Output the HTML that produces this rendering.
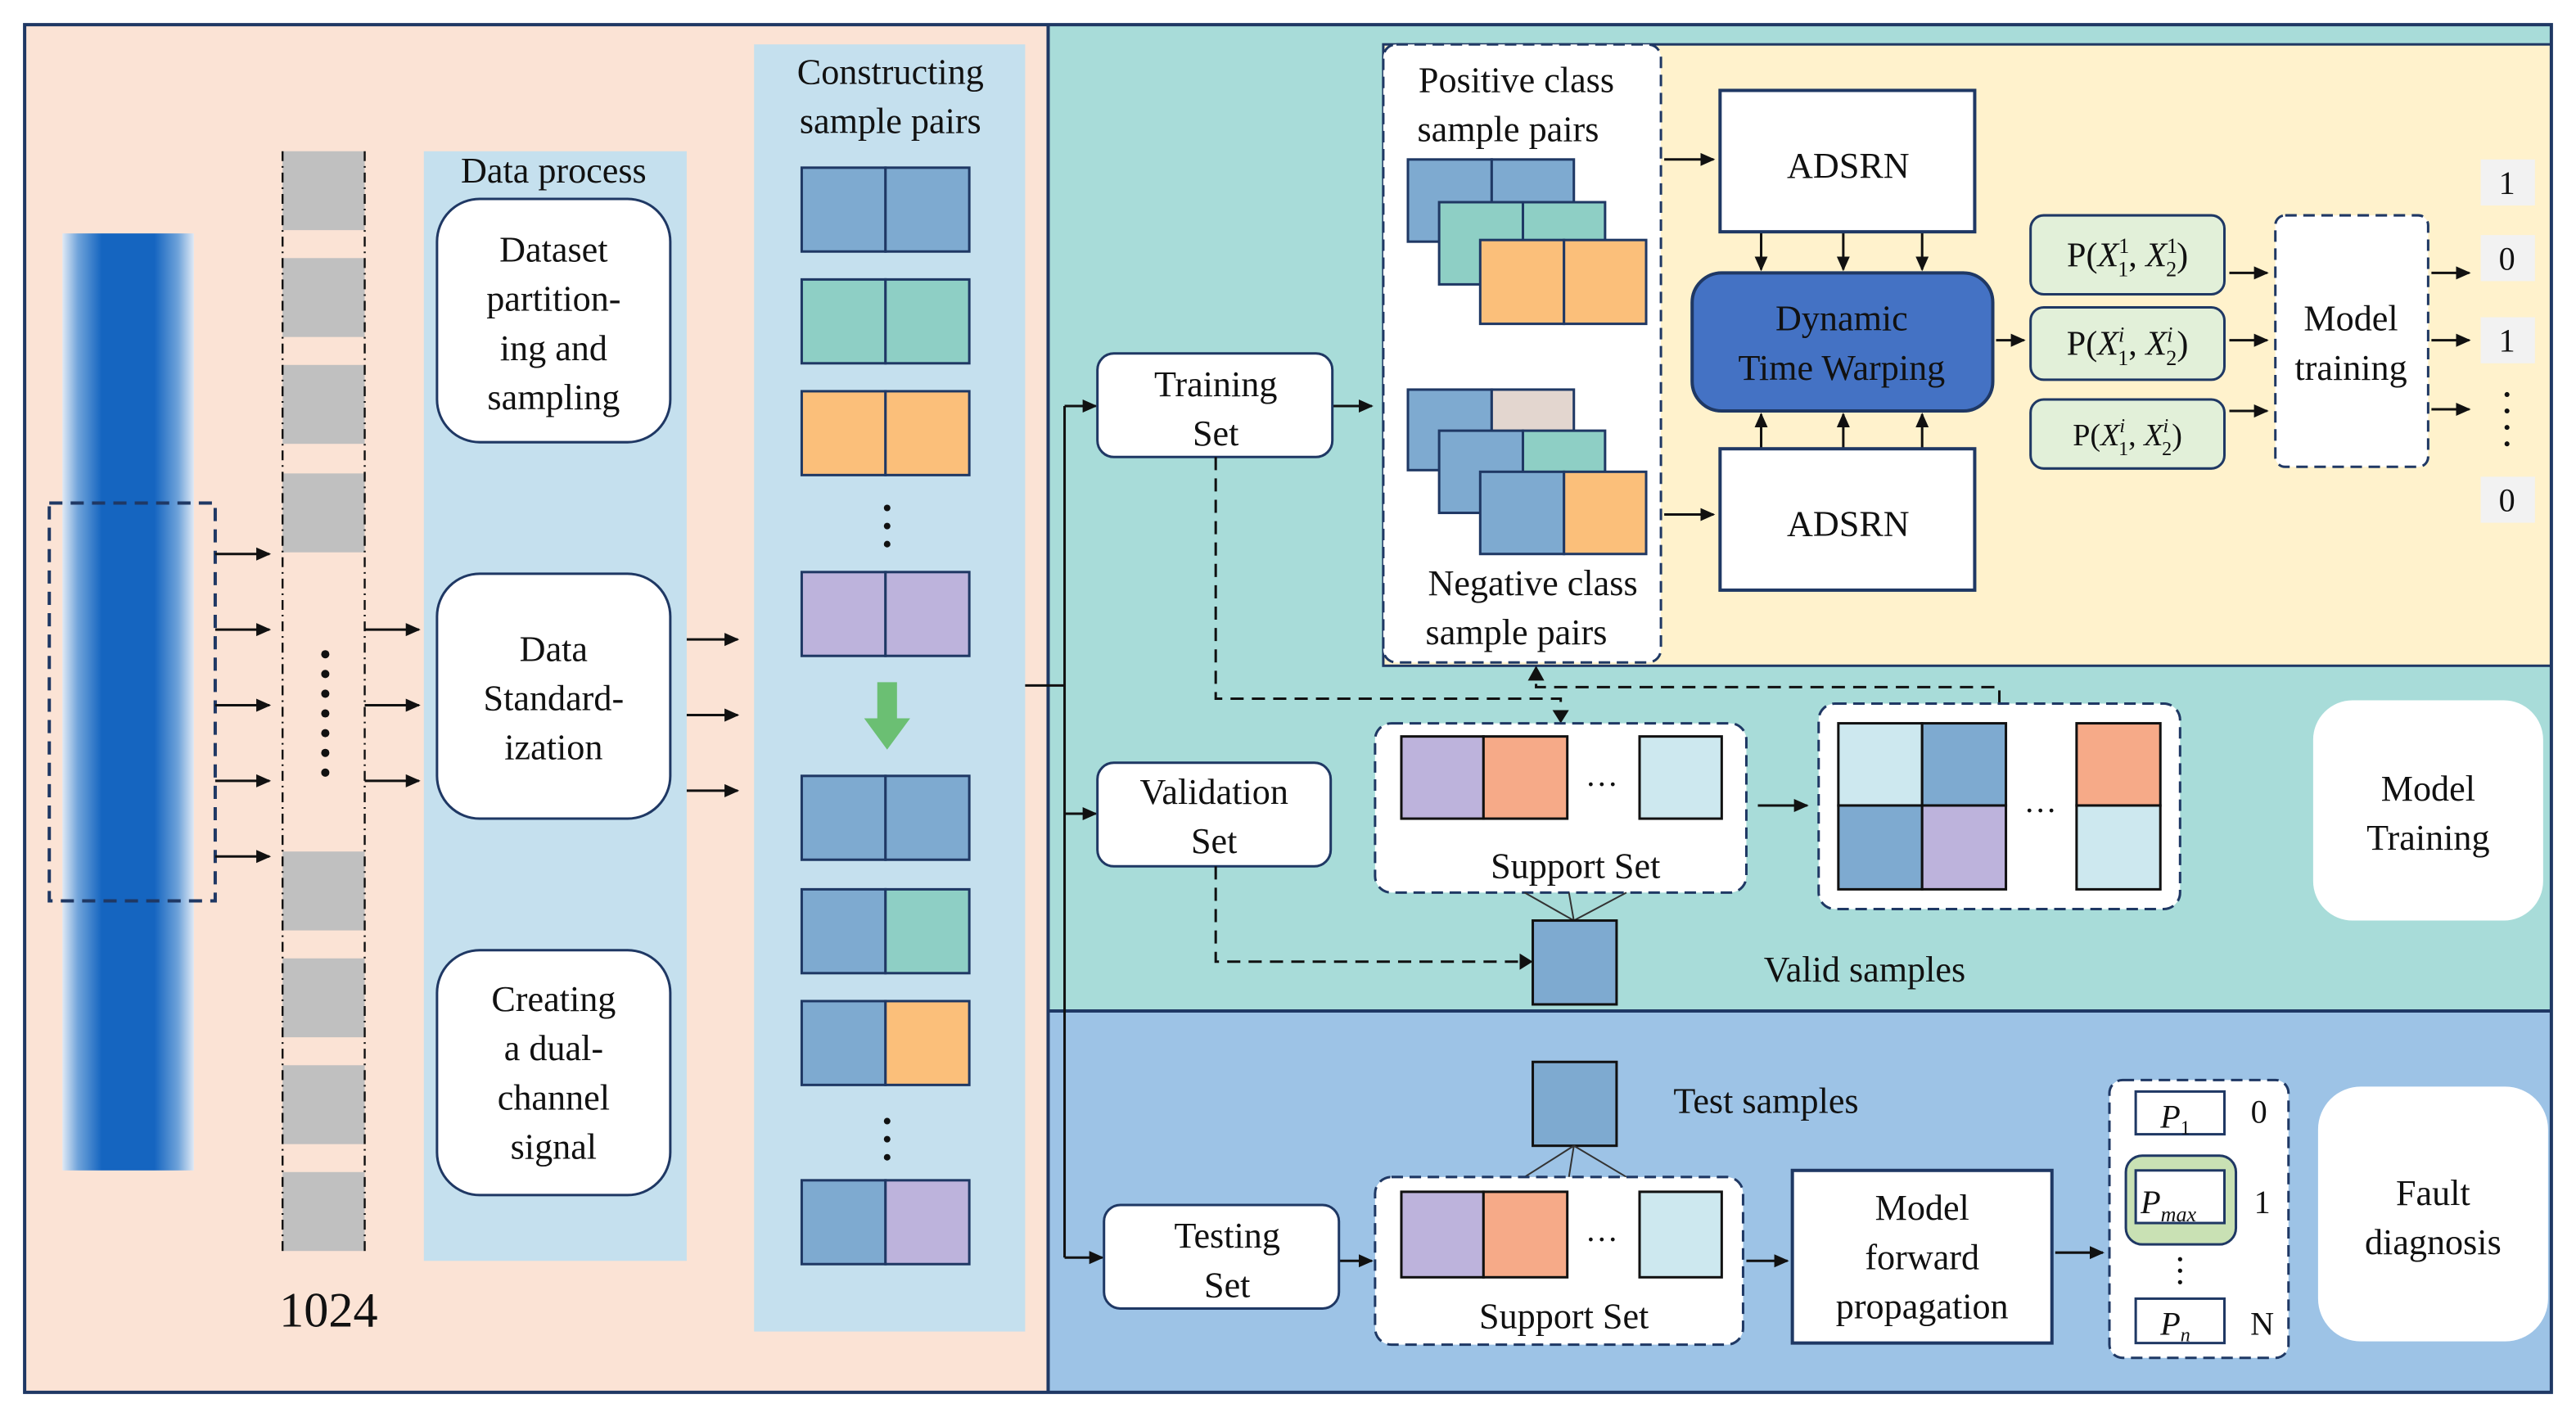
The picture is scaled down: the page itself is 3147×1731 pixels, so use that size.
<!DOCTYPE html>
<html><head><meta charset="utf-8"><style>
html,body{margin:0;padding:0;background:#fff;}
svg{display:block;}
text{font-family:"Liberation Serif",serif;fill:#111;}
</style></head><body>
<svg width="3147" height="1731" viewBox="0 0 1568 862" preserveAspectRatio="none" xmlns="http://www.w3.org/2000/svg">
<defs>
<marker id="a" markerWidth="10" markerHeight="10" refX="8" refY="5" orient="auto" markerUnits="userSpaceOnUse"><path d="M0,1 L9,5 L0,9 Z" fill="#111"/></marker>
<linearGradient id="sig" x1="0" x2="1" y1="0" y2="0">
<stop offset="0" stop-color="#dfe9f5"/><stop offset="0.12" stop-color="#6fa3da"/><stop offset="0.3" stop-color="#1565c0"/><stop offset="0.7" stop-color="#1565c0"/><stop offset="0.88" stop-color="#6fa3da"/><stop offset="1" stop-color="#dfe9f5"/>
</linearGradient>
</defs>
<rect x="0" y="0" width="1568" height="862" fill="#fff"/>
<!-- panels -->
<rect x="15" y="15" width="623" height="832" fill="#fbe3d5"/>
<rect x="638" y="15" width="915" height="600" fill="#a8dcd9"/>
<rect x="842" y="27" width="711" height="378" fill="#fff2cc" stroke="#1f3864" stroke-width="1.5"/>
<rect x="638" y="615" width="915" height="232" fill="#9dc3e6"/>
<line x1="638" y1="615" x2="1553" y2="615" stroke="#1f3864" stroke-width="2"/>
<line x1="638" y1="15" x2="638" y2="847" stroke="#1f3864" stroke-width="2"/>
<rect x="15" y="15" width="1538" height="832" fill="none" stroke="#1f3864" stroke-width="2"/>

<!-- signal -->
<rect x="38" y="142" width="80" height="570" fill="url(#sig)"/>
<rect x="30" y="306" width="101" height="242" fill="none" stroke="#1f3864" stroke-width="2" stroke-dasharray="8,5"/>
<g stroke="#111" stroke-width="1.5" marker-end="url(#a)">
<line x1="131" y1="337" x2="164" y2="337"/><line x1="131" y1="383" x2="164" y2="383"/><line x1="131" y1="429" x2="164" y2="429"/><line x1="131" y1="475" x2="164" y2="475"/><line x1="131" y1="521" x2="164" y2="521"/>
</g>
<!-- segments -->
<g fill="#c0c0c0">
<rect x="172" y="92" width="50" height="48"/><rect x="172" y="157" width="50" height="48"/><rect x="172" y="222" width="50" height="48"/><rect x="172" y="288" width="50" height="48"/>
<rect x="172" y="518" width="50" height="48"/><rect x="172" y="583" width="50" height="48"/><rect x="172" y="648" width="50" height="48"/><rect x="172" y="713" width="50" height="48"/>
</g>
<g stroke="#111" stroke-width="1.2" stroke-dasharray="6,3,1,3"><line x1="172" y1="92" x2="172" y2="762"/><line x1="222" y1="92" x2="222" y2="762"/></g>
<g fill="#111"><circle cx="198" cy="398" r="2.5"/><circle cx="198" cy="410" r="2.5"/><circle cx="198" cy="422" r="2.5"/><circle cx="198" cy="434" r="2.5"/><circle cx="198" cy="446" r="2.5"/><circle cx="198" cy="458" r="2.5"/><circle cx="198" cy="470" r="2.5"/></g>
<text x="200" y="807" font-size="30" text-anchor="middle">1024</text>
<g stroke="#111" stroke-width="1.5" marker-end="url(#a)">
<line x1="222" y1="383" x2="255" y2="383"/><line x1="222" y1="429" x2="255" y2="429"/><line x1="222" y1="475" x2="255" y2="475"/>
</g>
<!-- data process -->
<rect x="258" y="92" width="160" height="675" fill="#c5e0ee"/>
<text x="337" y="111" font-size="22" text-anchor="middle">Data process</text>
<g fill="#fff" stroke="#1f3864" stroke-width="1.5">
<rect x="266" y="121" width="142" height="148" rx="26"/><rect x="266" y="349" width="142" height="149" rx="26"/><rect x="266" y="578" width="142" height="149" rx="26"/>
</g>
<g font-size="22" text-anchor="middle">
<text x="337" y="159">Dataset</text><text x="337" y="189">partition-</text><text x="337" y="219">ing and</text><text x="337" y="249">sampling</text>
<text x="337" y="402">Data</text><text x="337" y="432">Standard-</text><text x="337" y="462">ization</text>
<text x="337" y="615">Creating</text><text x="337" y="645">a dual-</text><text x="337" y="675">channel</text><text x="337" y="705">signal</text>
</g>
<g stroke="#111" stroke-width="1.5" marker-end="url(#a)">
<line x1="418" y1="389" x2="449" y2="389"/><line x1="418" y1="435" x2="449" y2="435"/><line x1="418" y1="481" x2="449" y2="481"/>
</g>
<!-- constructing -->
<rect x="459" y="27" width="165" height="783" fill="#c5e0ee"/>
<text x="542" y="51" font-size="22" text-anchor="middle">Constructing</text>
<text x="542" y="81" font-size="22" text-anchor="middle">sample pairs</text>
<g stroke="#1f3864" stroke-width="1.5">
<rect x="488" y="102" width="51" height="51" fill="#7eaad0"/><rect x="539" y="102" width="51" height="51" fill="#7eaad0"/>
<rect x="488" y="170" width="51" height="51" fill="#8ecfc5"/><rect x="539" y="170" width="51" height="51" fill="#8ecfc5"/>
<rect x="488" y="238" width="51" height="51" fill="#fbbf7a"/><rect x="539" y="238" width="51" height="51" fill="#fbbf7a"/>
<rect x="488" y="348" width="51" height="51" fill="#bdb3dc"/><rect x="539" y="348" width="51" height="51" fill="#bdb3dc"/>
<rect x="488" y="472" width="51" height="51" fill="#7eaad0"/><rect x="539" y="472" width="51" height="51" fill="#7eaad0"/>
<rect x="488" y="541" width="51" height="51" fill="#7eaad0"/><rect x="539" y="541" width="51" height="51" fill="#8ecfc5"/>
<rect x="488" y="609" width="51" height="51" fill="#7eaad0"/><rect x="539" y="609" width="51" height="51" fill="#fbbf7a"/>
<rect x="488" y="718" width="51" height="51" fill="#7eaad0"/><rect x="539" y="718" width="51" height="51" fill="#bdb3dc"/>
</g>
<g fill="#111"><circle cx="540" cy="309" r="2"/><circle cx="540" cy="320" r="2"/><circle cx="540" cy="331" r="2"/><circle cx="540" cy="682" r="2"/><circle cx="540" cy="693" r="2"/><circle cx="540" cy="704" r="2"/></g>
<path d="M534,415 L546,415 L546,437 L554,437 L540,456 L526,437 L534,437 Z" fill="#6bbf73"/>
<!-- split lines -->
<g stroke="#111" stroke-width="1.5" fill="none">
<line x1="624" y1="417" x2="648" y2="417"/><line x1="648" y1="247" x2="648" y2="765"/>
</g>
<g stroke="#111" stroke-width="1.5" marker-end="url(#a)">
<line x1="648" y1="247" x2="667" y2="247"/><line x1="648" y1="495" x2="667" y2="495"/><line x1="648" y1="765" x2="671" y2="765"/>
<line x1="811" y1="247" x2="835" y2="247"/><line x1="815" y1="767" x2="835" y2="767"/>
</g>
<g fill="#fff" stroke="#1f3864" stroke-width="1.5">
<rect x="668" y="215" width="143" height="63" rx="10"/><rect x="668" y="464" width="142" height="63" rx="10"/><rect x="672" y="733" width="143" height="63" rx="10"/>
</g>
<g font-size="22" text-anchor="middle">
<text x="740" y="241">Training</text><text x="740" y="271">Set</text>
<text x="739" y="489">Validation</text><text x="739" y="519">Set</text>
<text x="747" y="759">Testing</text><text x="747" y="789">Set</text>
</g>
<!-- sample pairs box -->
<rect x="842" y="27" width="169" height="376" rx="8" fill="#fff" stroke="#1f3864" stroke-width="1.5" stroke-dasharray="7,4"/>
<g font-size="22" text-anchor="middle">
<text x="923" y="56">Positive class</text><text x="918" y="86">sample pairs</text>
<text x="933" y="362">Negative class</text><text x="923" y="392">sample pairs</text>
</g>
<g stroke="#1f3864" stroke-width="1.5">
<rect x="857" y="97" width="51" height="50" fill="#7eaad0"/><rect x="908" y="97" width="50" height="50" fill="#7eaad0"/>
<rect x="876" y="123" width="51" height="50" fill="#8ecfc5"/><rect x="927" y="123" width="50" height="50" fill="#8ecfc5"/>
<rect x="901" y="146" width="51" height="51" fill="#fbbf7a"/><rect x="952" y="146" width="50" height="51" fill="#fbbf7a"/>
<rect x="857" y="237" width="51" height="49" fill="#7eaad0"/><rect x="908" y="237" width="50" height="49" fill="#e3d6cf"/>
<rect x="876" y="262" width="51" height="50" fill="#7eaad0"/><rect x="927" y="262" width="50" height="50" fill="#8ecfc5"/>
<rect x="901" y="287" width="51" height="50" fill="#7eaad0"/><rect x="952" y="287" width="50" height="50" fill="#fbbf7a"/>
</g>
<g stroke="#111" stroke-width="1.5" marker-end="url(#a)">
<line x1="1013" y1="97" x2="1043" y2="97"/><line x1="1013" y1="313" x2="1043" y2="313"/>
<line x1="1072" y1="141" x2="1072" y2="164"/><line x1="1122" y1="141" x2="1122" y2="164"/><line x1="1170" y1="141" x2="1170" y2="164"/>
<line x1="1072" y1="273" x2="1072" y2="252"/><line x1="1122" y1="273" x2="1122" y2="252"/><line x1="1170" y1="273" x2="1170" y2="252"/>
<line x1="1215" y1="207" x2="1232" y2="207"/>
<line x1="1357" y1="166" x2="1380" y2="166"/><line x1="1357" y1="207" x2="1380" y2="207"/><line x1="1357" y1="250" x2="1380" y2="250"/>
<line x1="1480" y1="166" x2="1503" y2="166"/><line x1="1480" y1="207" x2="1503" y2="207"/><line x1="1480" y1="249" x2="1503" y2="249"/>
</g>
<g fill="#fff" stroke="#1f3864" stroke-width="2">
<rect x="1047" y="55" width="155" height="86"/><rect x="1047" y="273" width="155" height="86"/>
</g>
<text x="1125" y="108" font-size="22" text-anchor="middle">ADSRN</text>
<text x="1125" y="326" font-size="22" text-anchor="middle">ADSRN</text>
<rect x="1030" y="166" width="183" height="84" rx="18" fill="#4472c4" stroke="#1f3864" stroke-width="2"/>
<text x="1121" y="201" font-size="22" text-anchor="middle">Dynamic</text>
<text x="1121" y="231" font-size="22" text-anchor="middle">Time Warping</text>
<g fill="#e2f0d9" stroke="#1f3864" stroke-width="1.5">
<rect x="1236" y="131" width="118" height="48" rx="8"/><rect x="1236" y="187" width="118" height="44" rx="8"/><rect x="1236" y="243" width="118" height="42" rx="8"/>
</g>
<g font-size="21" text-anchor="middle">
<text x="1295" y="162">P(<tspan font-style="italic">X</tspan><tspan font-size="13" dy="-8">1</tspan><tspan font-size="13" dx="-7" dy="14">1</tspan><tspan dy="-6">, </tspan><tspan font-style="italic">X</tspan><tspan font-size="13" dy="-8">1</tspan><tspan font-size="13" dx="-7" dy="14">2</tspan><tspan dy="-6">)</tspan></text>
<text x="1295" y="216">P(<tspan font-style="italic">X</tspan><tspan font-size="13" font-style="italic" dy="-8">i</tspan><tspan font-size="13" dx="-4" dy="14">1</tspan><tspan dy="-6">, </tspan><tspan font-style="italic">X</tspan><tspan font-size="13" font-style="italic" dy="-8">i</tspan><tspan font-size="13" dx="-4" dy="14">2</tspan><tspan dy="-6">)</tspan></text>
<text x="1295" y="271" font-size="19">P(<tspan font-style="italic">X</tspan><tspan font-size="12" font-style="italic" dy="-8">i</tspan><tspan font-size="12" dx="-4" dy="14">1</tspan><tspan dy="-6">, </tspan><tspan font-style="italic">X</tspan><tspan font-size="12" font-style="italic" dy="-8">i</tspan><tspan font-size="12" dx="-4" dy="14">2</tspan><tspan dy="-6">)</tspan></text>
</g>
<rect x="1385" y="131" width="93" height="153" rx="6" fill="#fff" stroke="#1f3864" stroke-width="1.5" stroke-dasharray="7,4"/>
<text x="1431" y="201" font-size="22" text-anchor="middle">Model</text>
<text x="1431" y="231" font-size="22" text-anchor="middle">training</text>
<g fill="#f2f2f2"><rect x="1510" y="97" width="33" height="28"/><rect x="1510" y="143" width="33" height="28"/><rect x="1510" y="193" width="33" height="28"/><rect x="1510" y="290" width="33" height="28"/></g>
<g font-size="20" text-anchor="middle"><text x="1526" y="118">1</text><text x="1526" y="164">0</text><text x="1526" y="214">1</text><text x="1526" y="311">0</text></g>
<g fill="#111"><circle cx="1526" cy="240" r="1.5"/><circle cx="1526" cy="250" r="1.5"/><circle cx="1526" cy="260" r="1.5"/><circle cx="1526" cy="270" r="1.5"/></g>

<!-- validation dashed connectors -->
<g stroke="#111" stroke-width="1.5" fill="none" stroke-dasharray="8,5">
<polyline points="740,278 740,425 950,425 950,436"/>
<polyline points="740,527 740,585 928,585"/>
<polyline points="1217,428 1217,418 935,418 935,410"/>
</g>
<g fill="#111"><path d="M945,432 L955,432 L950,440 Z"/><path d="M925,580 L933,585 L925,590 Z"/><path d="M930,414 L940,414 L935,405 Z"/></g>
<rect x="837" y="440" width="226" height="103" rx="10" fill="#fff" stroke="#1f3864" stroke-width="1.5" stroke-dasharray="7,4"/>
<g stroke="#111" stroke-width="1.5">
<rect x="853" y="448" width="50" height="50" fill="#bdb3dc"/><rect x="903" y="448" width="51" height="50" fill="#f6aa88"/><rect x="998" y="448" width="50" height="50" fill="#cde8ef"/>
</g>
<text x="975" y="478" font-size="20" text-anchor="middle">…</text>
<text x="959" y="534" font-size="22" text-anchor="middle">Support Set</text>
<g stroke="#333" stroke-width="1"><line x1="958" y1="560" x2="928" y2="543"/><line x1="958" y1="560" x2="955" y2="543"/><line x1="958" y1="560" x2="990" y2="543"/></g>
<rect x="933" y="560" width="51" height="51" fill="#7eaad0" stroke="#111" stroke-width="1.5"/>
<line x1="1070" y1="490" x2="1100" y2="490" stroke="#111" stroke-width="1.5" marker-end="url(#a)"/>
<rect x="1107" y="428" width="220" height="125" rx="10" fill="#fff" stroke="#1f3864" stroke-width="1.5" stroke-dasharray="7,4"/>
<g stroke="#111" stroke-width="1.5">
<rect x="1119" y="440" width="51" height="50" fill="#cde8ef"/><rect x="1170" y="440" width="51" height="50" fill="#7eaad0"/>
<rect x="1119" y="490" width="51" height="51" fill="#7eaad0"/><rect x="1170" y="490" width="51" height="51" fill="#bdb3dc"/>
<rect x="1264" y="440" width="51" height="50" fill="#f6aa88"/><rect x="1264" y="490" width="51" height="51" fill="#cde8ef"/>
</g>
<text x="1242" y="494" font-size="20" text-anchor="middle">…</text>
<text x="1135" y="597" font-size="22" text-anchor="middle">Valid samples</text>
<rect x="1408" y="426" width="140" height="134" rx="24" fill="#fff"/>
<text x="1478" y="487" font-size="22" text-anchor="middle">Model</text>
<text x="1478" y="517" font-size="22" text-anchor="middle">Training</text>

<!-- testing -->
<rect x="933" y="646" width="51" height="51" fill="#7eaad0" stroke="#111" stroke-width="1.5"/>
<text x="1075" y="677" font-size="22" text-anchor="middle">Test samples</text>
<g stroke="#333" stroke-width="1"><line x1="958" y1="697" x2="928" y2="716"/><line x1="958" y1="697" x2="955" y2="716"/><line x1="958" y1="697" x2="990" y2="716"/></g>
<rect x="837" y="716" width="224" height="102" rx="10" fill="#fff" stroke="#1f3864" stroke-width="1.5" stroke-dasharray="7,4"/>
<g stroke="#111" stroke-width="1.5">
<rect x="853" y="725" width="50" height="52" fill="#bdb3dc"/><rect x="903" y="725" width="51" height="52" fill="#f6aa88"/><rect x="998" y="725" width="50" height="52" fill="#cde8ef"/>
</g>
<text x="975" y="755" font-size="20" text-anchor="middle">…</text>
<text x="952" y="808" font-size="22" text-anchor="middle">Support Set</text>
<g stroke="#111" stroke-width="1.5" marker-end="url(#a)">
<line x1="1063" y1="767" x2="1088" y2="767"/><line x1="1251" y1="762" x2="1280" y2="762"/>
</g>
<rect x="1091" y="712" width="158" height="105" fill="#fff" stroke="#1f3864" stroke-width="2"/>
<g font-size="22" text-anchor="middle"><text x="1170" y="742">Model</text><text x="1170" y="772">forward</text><text x="1170" y="802">propagation</text></g>
<rect x="1284" y="657" width="109" height="169" rx="8" fill="#fff" stroke="#1f3864" stroke-width="1.5" stroke-dasharray="7,4"/>
<rect x="1300" y="664" width="54" height="26" fill="#fff" stroke="#1f3864" stroke-width="1.5"/>
<rect x="1294" y="703" width="67" height="54" rx="10" fill="#c9e1b4" stroke="#1f3864" stroke-width="1.5"/>
<rect x="1300" y="712" width="54" height="32" fill="#fff" stroke="#1f3864" stroke-width="1.5"/>
<rect x="1300" y="790" width="54" height="27" fill="#fff" stroke="#1f3864" stroke-width="1.5"/>
<g font-size="20" font-style="italic"><text x="1315" y="686">P<tspan font-size="12" font-style="normal" dy="4">1</tspan></text>
<text x="1303" y="738">P<tspan font-size="13" dy="5">max</tspan></text>
<text x="1315" y="812">P<tspan font-size="12" dy="4">n</tspan></text></g>
<g font-size="20" text-anchor="middle"><text x="1375" y="683">0</text><text x="1377" y="738">1</text><text x="1377" y="812">N</text></g>
<g fill="#111"><circle cx="1327" cy="766" r="1.3"/><circle cx="1327" cy="773" r="1.3"/><circle cx="1327" cy="780" r="1.3"/></g>
<rect x="1411" y="661" width="140" height="155" rx="26" fill="#fff"/>
<text x="1481" y="733" font-size="22" text-anchor="middle">Fault</text>
<text x="1481" y="763" font-size="22" text-anchor="middle">diagnosis</text>
</svg>
</body></html>
